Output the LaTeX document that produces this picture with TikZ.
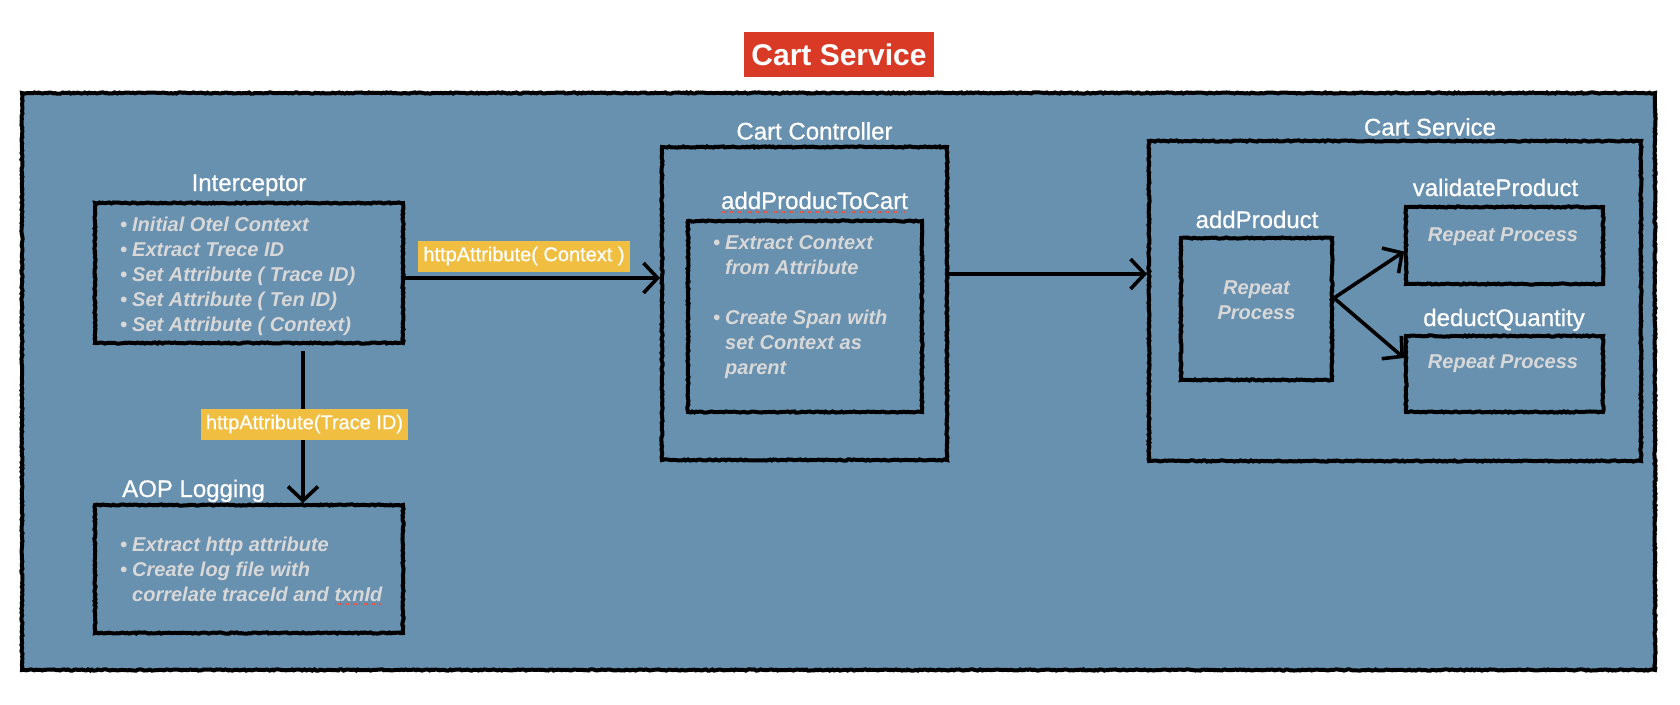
\documentclass[tikz,border=0pt]{standalone}
\usepackage{fontspec}
\setmainfont{Liberation Sans}
\newfontfamily\titlefont[FakeBold=0.7]{Liberation Sans}
\usetikzlibrary{arrows.meta,decorations.pathmorphing}
\definecolor{panel-blue}{RGB}{104,144,175}
\definecolor{note-gray}{RGB}{216,216,216}
\definecolor{label-yellow}{RGB}{240,190,65}
\definecolor{title-red}{RGB}{217,58,38}
\definecolor{spell-red}{RGB}{222,84,70}
\tikzset{
    sketch/.style = {decorate, decoration={random steps, segment length=2pt, amplitude=0.6pt}},
    sketch-box/.style = {draw=black, line width=4pt, sketch, rectangle, inner sep=0pt},
    box-title/.style = {text=white, font=\titlefont\fontsize{24}{29}\selectfont, inner sep=0pt, anchor=base},
    box-notes/.style = {text=note-gray, font=\fontsize{20}{25}\selectfont\bfseries\itshape, align=left, inner sep=0pt, anchor=base west},
    attr-label/.style = {fill=label-yellow, text=white, font=\titlefont\fontsize{20}{24}\selectfont, inner xsep=5pt, inner ysep=0pt, minimum height=31pt},
    flow/.style = {draw=black, line width=3.6pt, -{Straight Barb[length=14pt, width=30pt]}},
}
\newcommand{\bpt}{\makebox[12pt][l]{\textbullet}}
\newcommand{\bind}{\hspace*{12pt}}
\newcommand{\typo}[1]{\setbox0=\hbox{#1}\rlap{\color{spell-red}\raisebox{-3.5pt}{\hbox to \wd0{\leaders\hbox to 2.6pt{\hss\rule{1.3pt}{1.3pt}\hss}\hfill}}}\box0}

\begin{document}
\begin{tikzpicture}[x=1pt, y=-1pt]
\pgfmathsetseed{7}
\useasboundingbox (0,0) rectangle (1680,704);
\node[fill=title-red, text=white, font=\fontsize{30}{36}\selectfont\bfseries, minimum width=190pt, minimum height=45pt, inner sep=0pt] (page-title) at (839,54.5) {Cart Service};
\node[sketch-box, fill=panel-blue, minimum width=1633pt, minimum height=577pt] (panel) at (838.5,381.5) {};

\node[sketch-box, minimum width=308pt, minimum height=140pt] (icpt) at (249,273) {};
\node[box-title] (icpt-title) at (249,191) {Interceptor};
\node[box-notes] (icpt-notes) at (120,331) {\bpt Initial Otel Context\\
    \bpt Extract Trece ID\\
    \bpt Set Attribute ( Trace ID)\\
    \bpt Set Attribute ( Ten ID)\\
    \bpt Set Attribute ( Context)};

\node[sketch-box, minimum width=308pt, minimum height=128pt] (aop) at (249,569) {};
\node[box-title, anchor=base west] (aop-title) at (122,497) {AOP Logging};
\node[box-notes] (aop-notes) at (120,601) {\bpt Extract http attribute\\
    \bpt Create log file with\\
    \bind correlate traceId and \typo{txnId}};

\node[sketch-box, minimum width=285pt, minimum height=313pt] (ctrl) at (804.5,303.5) {};
\node[box-title] (ctrl-title) at (814.5,139.5) {Cart Controller};
\node[sketch-box, minimum width=234pt, minimum height=191pt] (cart-fn) at (805,316.5) {};
\node[box-title] (cart-fn-title) at (814.5,209) {\typo{addProducToCart}};
\node[box-notes] (cart-fn-notes) at (713,374) {\bpt Extract Context\\
    \bind from Attribute\\[25pt]
    \bpt Create Span with\\
    \bind set Context as\\
    \bind parent};

\node[sketch-box, minimum width=492pt, minimum height=320pt] (svc) at (1395,301) {};
\node[box-title] (svc-title) at (1430,135.5) {Cart Service};
\node[sketch-box, minimum width=151pt, minimum height=142pt] (addp) at (1256.5,309) {};
\node[box-title] (addp-title) at (1257,228) {addProduct};
\node[box-notes, anchor=base, align=center] (addp-notes) at (1256.5,319) {Repeat\\Process};
\node[sketch-box, minimum width=197pt, minimum height=77pt] (valid) at (1504.5,245.5) {};
\node[box-title] (valid-title) at (1495.5,196) {validateProduct};
\node[box-notes, anchor=base] (valid-notes) at (1503,241) {Repeat Process};
\node[sketch-box, minimum width=197pt, minimum height=76pt] (deduct) at (1504.5,374) {};
\node[box-title] (deduct-title) at (1504,326) {deductQuantity};
\node[box-notes, anchor=base] (deduct-notes) at (1503,368) {Repeat Process};

\coordinate (ctx-out) at ([yshift=-5pt]icpt.east);
\coordinate (ctrl-out) at ([yshift=29.5pt]ctrl.east);
\coordinate (trace-out) at ([xshift=54pt, yshift=-6pt]icpt.south);
\draw[flow] (ctx-out) -- (ctx-out -| ctrl.west);
\draw[flow] (ctrl-out) -- (ctrl-out -| svc.west);
\draw[flow] (trace-out) -- (trace-out |- aop.north);
\draw[flow] ([yshift=11pt]addp.east) -- ([yshift=-6pt]valid.west);
\draw[flow] ([yshift=11pt]addp.east) -- ([yshift=16pt]deduct.west);
\node[attr-label] (ctx-label) at (524,256) {httpAttribute( Context )};
\node[attr-label] (trace-label) at (304.5,424) {httpAttribute(Trace ID)};
\end{tikzpicture}
\end{document}
